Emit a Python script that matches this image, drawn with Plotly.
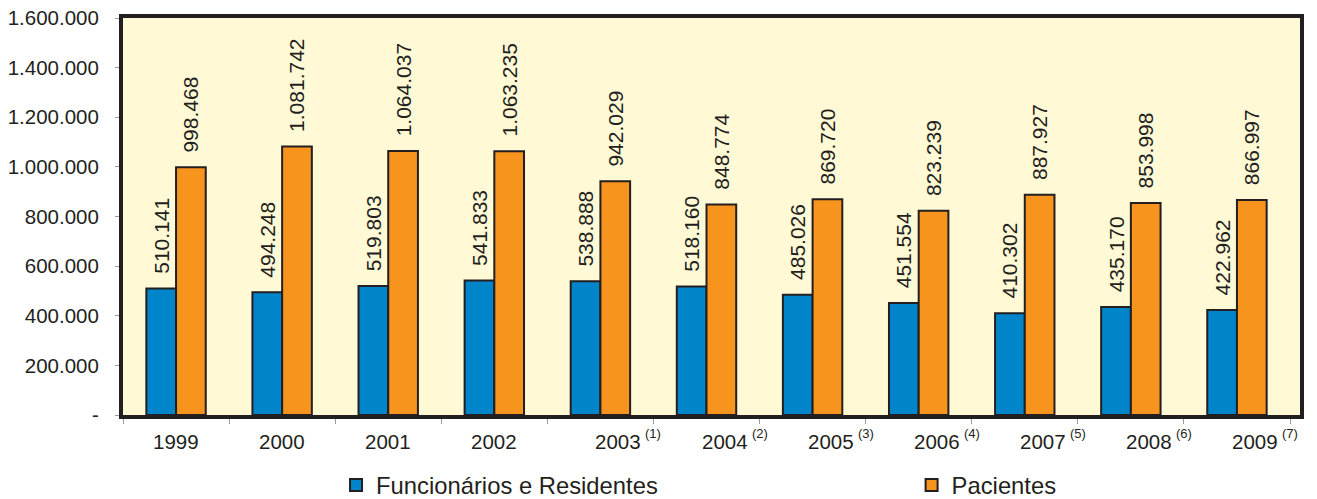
import plotly.graph_objects as go

years = ["1999", "2000", "2001", "2002", "2003", "2004", "2005", "2006", "2007", "2008", "2009"]
notes = ["", "", "", "", "(1)", "(2)", "(3)", "(4)", "(5)", "(6)", "(7)"]
funcionarios = [510141, 494248, 519803, 541833, 538888, 518160, 485026, 451554, 410302, 435170, 422962]
pacientes = [998468, 1081742, 1064037, 1063235, 942029, 848774, 869720, 823239, 887927, 853998, 866997]
y_ticks = [0, 200000, 400000, 600000, 800000, 1000000, 1200000, 1400000, 1600000]
y_ticktext = ["-", "200.000", "400.000", "600.000", "800.000", "1.000.000", "1.200.000", "1.400.000", "1.600.000"]

FONT = "Liberation Sans, Arial, sans-serif"
OUTLINE = "#231F20"


def fmt(v):
    return "\u00a0\u00a0" + f"{v:,}".replace(",", ".")


fig = go.Figure()
fig.add_trace(go.Bar(
    x=years, y=funcionarios, name="Funcionários e Residentes", legend="legend",
    marker=dict(color="#0085CA", line=dict(color=OUTLINE, width=2)),
    text=[fmt(v) for v in funcionarios], textposition="outside", textangle=-90,
    constraintext="none", cliponaxis=False,
    textfont=dict(family=FONT, size=21, color="#231F20"),
))
fig.add_trace(go.Bar(
    x=years, y=pacientes, name="Pacientes", legend="legend2",
    marker=dict(color="#F7941D", line=dict(color=OUTLINE, width=2)),
    text=[fmt(v) for v in pacientes], textposition="outside", textangle=-90,
    constraintext="none", cliponaxis=False,
    textfont=dict(family=FONT, size=21, color="#231F20"),
))

annotations = []
for i, (yr, nt) in enumerate(zip(years, notes)):
    shift = 0.17 if nt else 0.0
    annotations.append(dict(
        x=i + shift, y=0, xref="x", yref="paper", text=yr, showarrow=False,
        xanchor="center", yanchor="top", yshift=-13,
        font=dict(family=FONT, size=20.5, color="#231F20"),
    ))
    if nt:
        annotations.append(dict(
            x=i + 0.5, y=0, xref="x", yref="paper", text=nt, showarrow=False,
            xanchor="center", yanchor="top", yshift=-9,
            font=dict(family=FONT, size=13, color="#231F20"),
        ))

legend_common = dict(orientation="h", yanchor="middle", y=-0.1763, xanchor="left",
                     font=dict(family=FONT, size=23.8, color="#231F20"),
                     bgcolor="rgba(0,0,0,0)", borderwidth=0)

fig.update_layout(
    width=1317, height=499,
    margin=dict(l=123, r=17, t=18, b=84, autoexpand=False),
    paper_bgcolor="white", plot_bgcolor="#FFF9D5",
    barmode="group", bargap=0.44, bargroupgap=0,
    font=dict(family=FONT, color="#231F20"),
    showlegend=True,
    legend=dict(x=0.181, **legend_common),
    legend2=dict(x=0.670, **legend_common),
    annotations=annotations,
)
fig.update_xaxes(
    type="category", showline=True, linewidth=4, linecolor=OUTLINE, mirror=True,
    ticks="outside", tickson="boundaries", ticklen=5, tickcolor="#999999", tickwidth=1,
    showticklabels=False, showgrid=False,
)
fig.update_yaxes(
    range=[0, 1600000], tickvals=y_ticks, ticktext=y_ticktext,
    showline=True, linewidth=4, linecolor=OUTLINE, mirror=True,
    ticks="outside", ticklen=4, tickcolor="#999999", tickwidth=1,
    tickfont=dict(family=FONT, size=20.5, color="#231F20"),
    showgrid=False, zeroline=False, ticklabelstandoff=12,
    ticklabeloverflow="allow",
)

fig.write_html("out.html", config={"displayModeBar": False},
               post_script="document.body.style.margin='0px';")
